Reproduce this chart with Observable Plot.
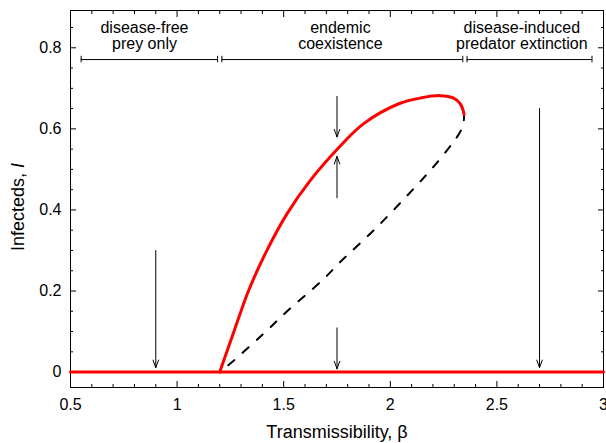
<!DOCTYPE html>
<html><head><meta charset="utf-8">
<script src="https://cdn.jsdelivr.net/npm/d3@7"></script>
<script src="https://cdn.jsdelivr.net/npm/@observablehq/plot@0.6"></script>
<style>body{margin:0;background:#fff}</style>
</head><body><div id="chart"></div>
<script>
// Axis ticks
const xTicks = [0.5, 1, 1.5, 2, 2.5, 3];
const xTickLabels = ["0.5", "1", "1.5", "2", "2.5", "3"];
const xMinor = [0.6, 0.7, 0.8, 0.9, 1.1, 1.2, 1.3, 1.4, 1.6, 1.7, 1.8, 1.9, 2.1, 2.2, 2.3, 2.4, 2.6, 2.7, 2.8, 2.9];
const yTicks = [0, 0.2, 0.4, 0.6, 0.8];
const yTickLabels = ["0", "0.2", "0.4", "0.6", "0.8"];
const yMinor = [0.05, 0.1, 0.15, 0.25, 0.3, 0.35, 0.45, 0.5, 0.55, 0.65, 0.7, 0.75, 0.85];

// Disease-free stable branch (I = 0)
const betaZero = [0.5, 3];
const iZero = [0, 0];

// Endemic stable branch (red)
const betaUpper = [1.2, 1.26, 1.336, 1.422, 1.516, 1.625, 1.75, 1.875, 2.04, 2.141, 2.234, 2.297, 2.328, 2.342, 2.346];
const iUpper    = [0, 0.09, 0.202, 0.301, 0.391, 0.473, 0.549, 0.613, 0.662, 0.676, 0.682, 0.676, 0.662, 0.645, 0.635];

// Unstable branch (dashed)
const betaUnstable = [1.2, 1.258, 1.4, 1.516, 1.68, 1.766, 1.938, 2.1, 2.2, 2.294, 2.313, 2.335, 2.344, 2.346];
const iUnstable    = [0, 0.025, 0.092, 0.15, 0.226, 0.272, 0.358, 0.447, 0.505, 0.566, 0.58, 0.6, 0.617, 0.635];

// Arrows
const arrowBeta = [0.9, 1.75, 1.75, 1.75, 2.7];
const arrowFrom = [0.30, 0.68, 0.43, 0.109, 0.65];
const arrowTo   = [0.011, 0.58, 0.532, 0.008, 0.011];

// Regions
const regionStart = [0.55, 1.21, 2.36];
const regionEnd   = [1.19, 2.34, 2.946];
const regionLevel = 0.771;
const regionLabels = ["disease-free\nprey only", "endemic\ncoexistence", "disease-induced\npredator extinction"];
const regionLabelBeta = [0.847, 1.766, 2.617];
const regionLabelLevel = 0.829;

const xTitle = "Transmissibility, β";

const zeroData = betaZero.map((b, i) => ({beta: b, I: iZero[i]}));
const upperData = betaUpper.map((b, i) => ({beta: b, I: iUpper[i]}));
const unstableData = betaUnstable.map((b, i) => ({beta: b, I: iUnstable[i]}));
const arrows = arrowBeta.map((b, i) => ({beta: b, from: arrowFrom[i], to: arrowTo[i]}));
const regions = regionStart.map((s, i) => ({start: s, end: regionEnd[i], level: regionLevel, label: regionLabels[i], mid: regionLabelBeta[i]}));
const caps = regions.flatMap(r => [r.start, r.end]).map(b => ({beta: b, y1: regionLevel - 0.008, y2: regionLevel + 0.008}));

const font = "'Liberation Sans', Arial, Helvetica, sans-serif";

const chart = Plot.plot({
  width: 606,
  height: 443,
  marginLeft: 70,
  marginRight: 3,
  marginTop: 10,
  marginBottom: 56,
  x: {domain: [0.5, 3]},
  y: {domain: [-0.038, 0.892]},
  style: {fontFamily: font, fontSize: "16px", color: "black", background: "white", overflow: "visible"},
  marks: [
    // tick labels
    Plot.axisX(xTicks, {anchor: "bottom", tickSize: 0, tickPadding: 11, tickFormat: d => xTickLabels[xTicks.indexOf(d)], label: null, fontSize: 16}),
    Plot.axisY(yTicks, {anchor: "left", tickSize: 0, tickPadding: 9, tickFormat: d => yTickLabels[yTicks.indexOf(d)], label: null, fontSize: 16}),
    // inward ticks (all four sides)
    Plot.axisX(xTicks, {anchor: "bottom", tickSize: -6, fill: "none", label: null, tickFormat: () => ""}),
    Plot.axisX(xMinor, {anchor: "bottom", tickSize: -3, fill: "none", label: null, tickFormat: () => ""}),
    Plot.axisX(xTicks, {anchor: "top", tickSize: -6, fill: "none", label: null, tickFormat: () => ""}),
    Plot.axisX(xMinor, {anchor: "top", tickSize: -3, fill: "none", label: null, tickFormat: () => ""}),
    Plot.axisY(yTicks, {anchor: "left", tickSize: -6, fill: "none", label: null, tickFormat: () => ""}),
    Plot.axisY(yMinor, {anchor: "left", tickSize: -3, fill: "none", label: null, tickFormat: () => ""}),
    Plot.axisY(yTicks, {anchor: "right", tickSize: -6, fill: "none", label: null, tickFormat: () => ""}),
    Plot.axisY(yMinor, {anchor: "right", tickSize: -3, fill: "none", label: null, tickFormat: () => ""}),
    Plot.frame({stroke: "black", strokeWidth: 1}),
    // region annotations
    Plot.ruleY(regions, {y: "level", x1: "start", x2: "end", stroke: "black", strokeWidth: 1}),
    Plot.ruleX(caps, {x: "beta", y1: "y1", y2: "y2", stroke: "black", strokeWidth: 1}),
    Plot.text(regions, {x: "mid", y: () => regionLabelLevel, text: "label", fontSize: 16, lineHeight: 0.97, lineAnchor: "middle", fill: "black"}),
    // arrows
    Plot.arrow(arrows, {x1: "beta", y1: "from", x2: "beta", y2: "to", stroke: "black", strokeWidth: 1, headLength: 12, headAngle: 40}),
    // branches
    Plot.line(unstableData, {x: "beta", y: "I", stroke: "black", strokeWidth: 2, strokeDasharray: "8,11", strokeDashoffset: 8, curve: "catmull-rom"}),
    Plot.line(zeroData, {x: "beta", y: "I", stroke: "#ff0000", strokeWidth: 3}),
    Plot.line(upperData, {x: "beta", y: "I", stroke: "#ff0000", strokeWidth: 3, curve: "catmull-rom"}),
    // x title
    Plot.text([xTitle], {frameAnchor: "bottom", dy: 45, text: d => d, fontSize: 18, lineAnchor: "middle", fill: "black"})
  ]
});

document.getElementById("chart").appendChild(chart);

// y-axis title with italic I
const svg = d3.select(chart);
const t = svg.append("text")
  .attr("transform", "translate(24,207) rotate(-90)")
  .attr("text-anchor", "middle")
  .attr("fill", "black")
  .style("font-family", font)
  .style("font-size", "18px");
t.append("tspan").text("Infecteds, ");
t.append("tspan").style("font-style", "italic").text("I");
</script>
</body></html>
